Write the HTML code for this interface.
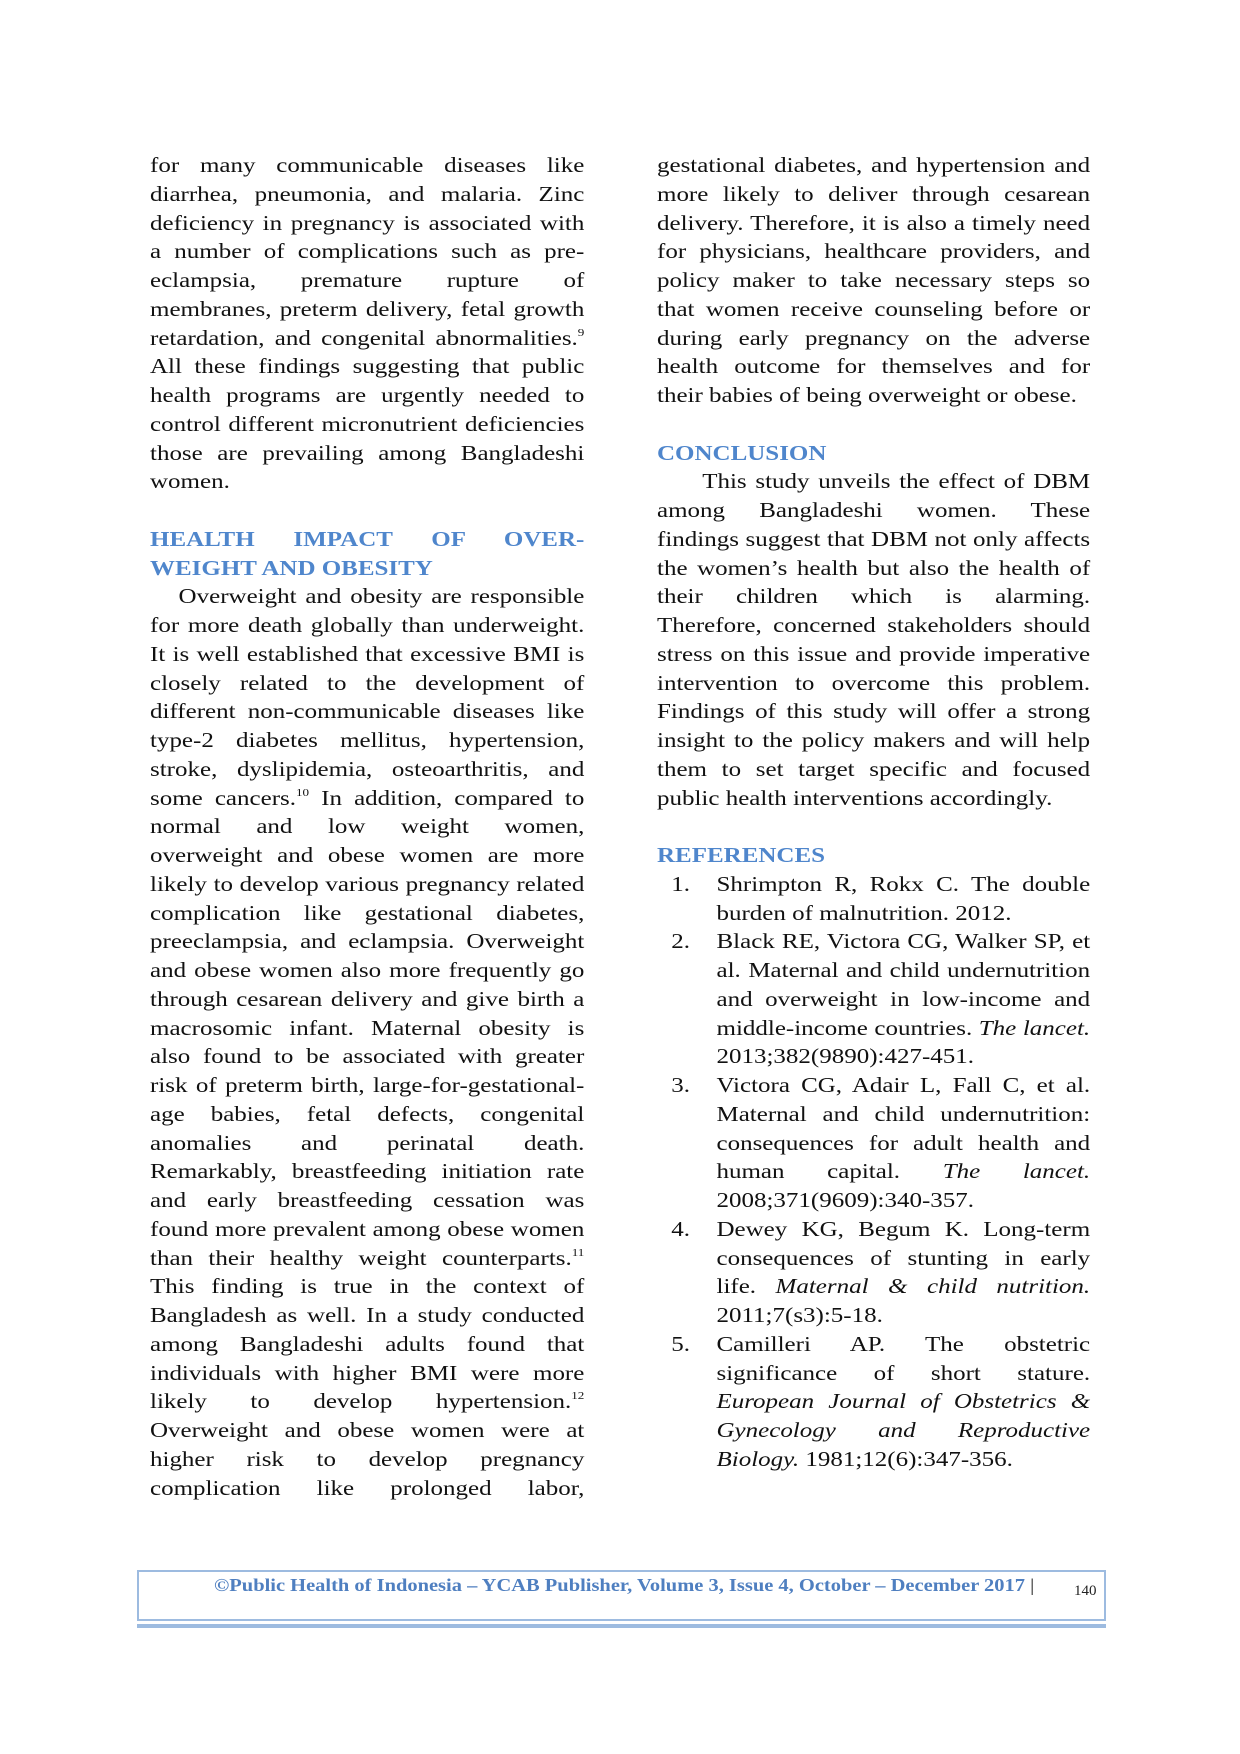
<!DOCTYPE html>
<html><head><meta charset="utf-8"><style>
body{margin:0;background:#fff}
.page{position:relative;width:1240px;height:1754px;overflow:hidden;background:#fff;font-family:"Liberation Serif",serif;color:#111}
.col{position:absolute;top:151px;font-size:21px;transform:scaleX(1.19);transform-origin:0 0}
.col div{height:28.75px;line-height:28.75px;white-space:nowrap}
.j{text-align:justify;text-align-last:justify}
.h{color:#4f86cc;font-weight:bold}
sup{font-size:11px;line-height:0;vertical-align:9px}
.r{position:relative;padding-left:50px}
.r span.n{position:absolute;left:12px}
.footer{position:absolute;left:137px;top:1570px;width:965px;height:47px;border:2px solid #9dbbe0}
.dl{position:absolute;left:137px;top:1624px;width:969px;height:4px;background:#9dbbe0}
.ft{position:absolute;left:214px;top:1575px;font-family:"Liberation Serif",serif;font-weight:bold;color:#4f7fc0;font-size:17.5px;white-space:nowrap;transform:scaleX(1.17);transform-origin:0 0}
.pn{position:absolute;font-size:15px;color:#222}
</style></head><body><div class="page">
<div class="col" style="left:150px;width:365px">
<div class="j">for many communicable diseases like</div>
<div class="j">diarrhea, pneumonia, and malaria. Zinc</div>
<div class="j">deficiency in pregnancy is associated with</div>
<div class="j">a number of complications such as pre-</div>
<div class="j">eclampsia, premature rupture of</div>
<div class="j">membranes, preterm delivery, fetal growth</div>
<div class="j">retardation, and congenital abnormalities.<sup>9</sup></div>
<div class="j">All these findings suggesting that public</div>
<div class="j">health programs are urgently needed to</div>
<div class="j">control different micronutrient deficiencies</div>
<div class="j">those are prevailing among Bangladeshi</div>
<div>women.</div>
<div></div>
<div class="j h">HEALTH IMPACT OF OVER-</div>
<div class="h">WEIGHT AND OBESITY</div>
<div class="j" style="padding-left:24px">Overweight and obesity are responsible</div>
<div class="j">for more death globally than underweight.</div>
<div class="j">It is well established that excessive BMI is</div>
<div class="j">closely related to the development of</div>
<div class="j">different non-communicable diseases like</div>
<div class="j">type-2 diabetes mellitus, hypertension,</div>
<div class="j">stroke, dyslipidemia, osteoarthritis, and</div>
<div class="j">some cancers.<sup>10</sup> In addition, compared to</div>
<div class="j">normal and low weight women,</div>
<div class="j">overweight and obese women are more</div>
<div class="j">likely to develop various pregnancy related</div>
<div class="j">complication like gestational diabetes,</div>
<div class="j">preeclampsia, and eclampsia. Overweight</div>
<div class="j">and obese women also more frequently go</div>
<div class="j">through cesarean delivery and give birth a</div>
<div class="j">macrosomic infant. Maternal obesity is</div>
<div class="j">also found to be associated with greater</div>
<div class="j">risk of preterm birth, large-for-gestational-</div>
<div class="j">age babies, fetal defects, congenital</div>
<div class="j">anomalies and perinatal death.</div>
<div class="j">Remarkably, breastfeeding initiation rate</div>
<div class="j">and early breastfeeding cessation was</div>
<div class="j">found more prevalent among obese women</div>
<div class="j">than their healthy weight counterparts.<sup>11</sup></div>
<div class="j">This finding is true in the context of</div>
<div class="j">Bangladesh as well. In a study conducted</div>
<div class="j">among Bangladeshi adults found that</div>
<div class="j">individuals with higher BMI were more</div>
<div class="j">likely to develop hypertension.<sup>12</sup></div>
<div class="j">Overweight and obese women were at</div>
<div class="j">higher risk to develop pregnancy</div>
<div class="j">complication like prolonged labor,</div>
</div>
<div class="col" style="left:657px;width:364px">
<div class="j">gestational diabetes, and hypertension and</div>
<div class="j">more likely to deliver through cesarean</div>
<div class="j">delivery. Therefore, it is also a timely need</div>
<div class="j">for physicians, healthcare providers, and</div>
<div class="j">policy maker to take necessary steps so</div>
<div class="j">that women receive counseling before or</div>
<div class="j">during early pregnancy on the adverse</div>
<div class="j">health outcome for themselves and for</div>
<div>their babies of being overweight or obese.</div>
<div></div>
<div class="h">CONCLUSION</div>
<div class="j" style="padding-left:38px">This study unveils the effect of DBM</div>
<div class="j">among Bangladeshi women. These</div>
<div class="j">findings suggest that DBM not only affects</div>
<div class="j">the women’s health but also the health of</div>
<div class="j">their children which is alarming.</div>
<div class="j">Therefore, concerned stakeholders should</div>
<div class="j">stress on this issue and provide imperative</div>
<div class="j">intervention to overcome this problem.</div>
<div class="j">Findings of this study will offer a strong</div>
<div class="j">insight to the policy makers and will help</div>
<div class="j">them to set target specific and focused</div>
<div>public health interventions accordingly.</div>
<div></div>
<div class="h">REFERENCES</div>
<div class="j r"><span class="n">1.</span>Shrimpton R, Rokx C. The double</div>
<div class="r">burden of malnutrition. 2012.</div>
<div class="j r"><span class="n">2.</span>Black RE, Victora CG, Walker SP, et</div>
<div class="j r">al. Maternal and child undernutrition</div>
<div class="j r">and overweight in low-income and</div>
<div class="j r">middle-income countries. <i>The lancet.</i></div>
<div class="r">2013;382(9890):427-451.</div>
<div class="j r"><span class="n">3.</span>Victora CG, Adair L, Fall C, et al.</div>
<div class="j r">Maternal and child undernutrition:</div>
<div class="j r">consequences for adult health and</div>
<div class="j r">human capital. <i>The lancet.</i></div>
<div class="r">2008;371(9609):340-357.</div>
<div class="j r"><span class="n">4.</span>Dewey KG, Begum K. Long-term</div>
<div class="j r">consequences of stunting in early</div>
<div class="j r">life. <i>Maternal &amp; child nutrition.</i></div>
<div class="r">2011;7(s3):5-18.</div>
<div class="j r"><span class="n">5.</span>Camilleri AP. The obstetric</div>
<div class="j r">significance of short stature.</div>
<div class="j r"><i>European Journal of Obstetrics &amp;</i></div>
<div class="j r"><i>Gynecology and Reproductive</i></div>
<div class="r"><i>Biology.</i> 1981;12(6):347-356.</div>
</div>
<div class="footer"></div>
<div class="dl"></div>
<div class="ft">©Public Health of Indonesia – YCAB Publisher, Volume 3, Issue 4, October – December 2017 <span style="font-weight:normal;color:#222">|</span></div>
<div class="pn" style="left:1074px;top:1583px">140</div>
</div></body></html>
